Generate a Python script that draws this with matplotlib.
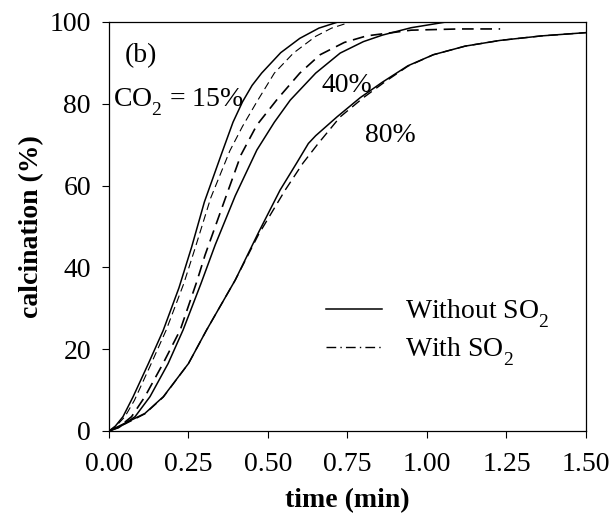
import matplotlib
matplotlib.use("Agg")
import matplotlib.pyplot as plt
import matplotlib._mathtext as mathtext_core

# calcination curves, read as (time in min, calcination in %)
t_15 = [0, 0.02, 0.044, 0.076, 0.124, 0.17, 0.22, 0.26, 0.30, 0.355, 0.39, 0.42, 0.45, 0.48, 0.54,
        0.60, 0.66, 0.72]
x_15 = [0, 1.2, 3.5, 8.4, 16.5, 24.5, 35, 45, 56, 68, 75.5, 80.5, 84.5, 87.5, 92.5,
        96, 98.5, 100]

t_15_so2 = [0, 0.02, 0.05, 0.08, 0.13, 0.18, 0.235, 0.27, 0.32, 0.38, 0.42, 0.465, 0.52, 0.58,
            0.65, 0.70, 0.76]
x_15_so2 = [0, 1.0, 3.5, 7.5, 16, 24.7, 36, 44.5, 57, 68.5, 74.5, 80.5, 87.5, 92.4,
            96.5, 98.5, 100]

t_40 = [0, 0.03, 0.082, 0.129, 0.186, 0.233, 0.289, 0.334, 0.397, 0.465, 0.52, 0.57, 0.65, 0.727,
        0.80, 0.86, 0.95, 1.06]
x_40 = [0, 0.8, 3.5, 8.4, 16.5, 24.7, 36, 45.5, 57.5, 68.7, 75.5, 80.9, 87.5, 92.4,
        95.2, 96.8, 98.6, 100]

t_40_so2 = [0, 0.03, 0.071, 0.113, 0.17, 0.224, 0.276, 0.302, 0.371, 0.415, 0.465, 0.53, 0.60,
            0.664, 0.74, 0.81, 0.95, 1.10, 1.23]
x_40_so2 = [0, 0.9, 3.5, 8.4, 16.5, 24.7, 36.5, 43, 58, 67.5, 74.8, 81.2, 87.5,
            92, 95, 96.6, 98, 98.3, 98.3]

t_80 = [0, 0.05, 0.113, 0.171, 0.25, 0.307, 0.397, 0.47, 0.538, 0.59, 0.627, 0.65, 0.717, 0.79,
        0.86, 0.94, 1.02, 1.12, 1.23, 1.36, 1.5]
x_80 = [0, 1.9, 4.3, 8.4, 16.5, 24.7, 36.9, 48.5, 58.9, 65.5, 70.3, 72.2, 76.8, 81.5,
        85.3, 89.3, 92, 94.1, 95.5, 96.6, 97.4]

t_80_so2 = [0, 0.05, 0.113, 0.171, 0.25, 0.307, 0.397, 0.47, 0.554, 0.61, 0.658, 0.727, 0.80,
            0.87, 0.94, 1.02, 1.12, 1.23, 1.36, 1.5]
x_80_so2 = [0, 1.7, 4.2, 8.3, 16.5, 24.7, 36.9, 48, 58.9, 65.5, 70.3, 76.8, 81.5,
            85.5, 89.2, 92, 94.1, 95.5, 96.6, 97.4]

x_ticks = [0.00, 0.25, 0.50, 0.75, 1.00, 1.25, 1.50]
y_ticks = [0, 20, 40, 60, 80, 100]

plt.rcParams['font.family'] = ['Liberation Serif', 'DejaVu Serif']
plt.rcParams['mathtext.fontset'] = 'custom'
plt.rcParams['mathtext.rm'] = 'Liberation Serif'
plt.rcParams['mathtext.it'] = 'Liberation Serif:italic'
plt.rcParams['mathtext.bf'] = 'Liberation Serif:bold'
# drop the subscripts a bit lower (CO2, SO2)
mathtext_core.FontConstantsBase.sub1 = 0.7

fs = 20
fig = plt.figure(figsize=(6.14, 5.30), dpi=100)
ax = fig.add_axes([0.1775, 0.1868, 0.7769, 0.7717])

lw = 1.1
ax.plot(t_15, x_15, color='black', lw=lw)
ax.plot(t_40, x_40, color='black', lw=lw)
ax.plot(t_80, x_80, color='black', lw=lw)
ax.plot(t_15_so2, x_15_so2, color='black', lw=0.8, dashes=(7, 4))
ax.plot(t_40_so2, x_40_so2, color='black', lw=1.2, dashes=(7, 4))
ax.plot(t_80_so2, x_80_so2, color='black', lw=1.0, dashes=(7, 4))

# legend entries only
h1, = ax.plot([], [], color='black', lw=lw, label=r'Without SO$_{\rm 2}$')
h2, = ax.plot([], [], color='black', lw=1.0, dashes=(7, 3, 1, 3), label=r'With SO$_{\rm 2}$')
ax.legend(handles=[h1, h2], loc='center left', bbox_to_anchor=(0.455, 0.24),
          frameon=False, fontsize=fs, handlelength=2.0, handletextpad=0.85,
          labelspacing=0.2, borderpad=0, borderaxespad=0)

ax.text(0.05, 90.2, '(b)', fontsize=fs, va='baseline', ha='left')
ax.text(0.012, 79.2, r'CO$_{\rm 2}$ = 15%', fontsize=fs, va='baseline', ha='left')
ax.text(0.668, 83, '40%', fontsize=fs, va='baseline', ha='left')
ax.text(0.806, 70.7, '80%', fontsize=fs, va='baseline', ha='left')

ax.set_xlim(0, 1.5)
ax.set_ylim(0, 100)
ax.set_xticks(x_ticks)
ax.set_xticklabels([f'{v:.2f}' for v in x_ticks])
ax.set_yticks(y_ticks)
ax.tick_params(direction='out', length=5, width=0.8, labelsize=fs)
ax.tick_params(axis='x', pad=10)
ax.tick_params(axis='y', pad=8)
for s in ax.spines.values():
    s.set_linewidth(0.9)

ax.set_xlabel('time (min)', fontsize=fs, fontweight='bold', labelpad=8)
ax.set_ylabel('calcination (%)', fontsize=fs, fontweight='bold', labelpad=4)

fig.savefig('out.png', dpi=100)
